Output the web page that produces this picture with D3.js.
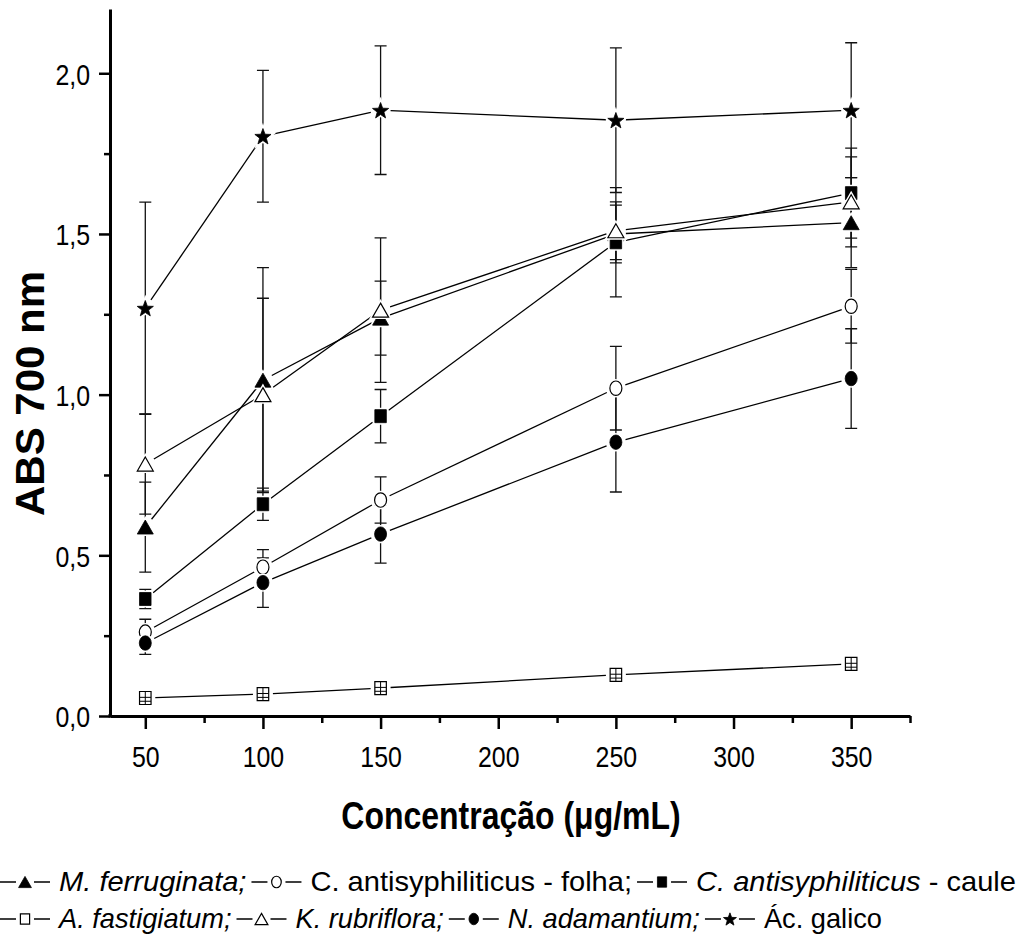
<!DOCTYPE html>
<html><head><meta charset="utf-8">
<script src="https://cdn.jsdelivr.net/npm/d3@7"></script>
<style>body{margin:0;background:#fff}svg{display:block}text{font-family:"Liberation Sans",Arial,sans-serif;fill:#000}</style>
</head><body><svg id="c" width="1024" height="942"></svg>
<script>
// ---------- data ----------
const concentrations = [50, 100, 150, 250, 350];
const xTickValues = [50, 100, 150, 200, 250, 300, 350];
const xMinorTicks = [75, 125, 175, 225, 275, 325, 375];
const yTickValues = [0, 0.5, 1.0, 1.5, 2.0];
const yTickLabels = ["0,0", "0,5", "1,0", "1,5", "2,0"];
const yMinorTicks = [0.25, 0.75, 1.25, 1.75];

const mFerruginata    = [0.588, 1.045, 1.238, 1.500, 1.535];
const mFerruginataErr = [0.140, 0.350, 0.115, 0.090, 0.140];
const cFolha          = [0.261, 0.463, 0.672, 1.020, 1.275];
const cFolhaErr       = [0.040, 0.055, 0.072, 0.130, 0.115];
const cCaule          = [0.364, 0.659, 0.933, 1.474, 1.627];
const cCauleErr       = [0.030, 0.050, 0.083, 0.170, 0.140];
const aFastigiatum    = [0.056, 0.068, 0.087, 0.128, 0.162];
const aFastigiatumErr = [0.008, 0.008, 0.008, 0.010, 0.010];
const kRubriflora     = [0.784, 1.000, 1.263, 1.510, 1.600];
const kRubrifloraErr  = [0.156, 0.300, 0.225, 0.090, 0.140];
const nAdamantium     = [0.227, 0.415, 0.566, 0.852, 1.050];
const nAdamantiumErr  = [0.035, 0.077, 0.090, 0.155, 0.155];
const acGalico        = [1.269, 1.804, 1.885, 1.854, 1.885];
const acGalicoErr     = [0.330, 0.205, 0.200, 0.225, 0.210];

// legend labels: [text, italic]
const legendLabels = [
  [["M. ferruginata;", true]],
  [["C. antisyphiliticus - folha;", false]],
  [["C. antisyphiliticus", true], [" - caule", false]],
  [["A. fastigiatum;", true]],
  [["K. rubriflora;", true]],
  [["N. adamantium;", true]],
  [["Ác. galico", false]]
];

const xTitle = "Concentração (μg/mL)";
const yTitle = "ABS 700 nm";

// ---------- series table ----------
const series = [
  {values: mFerruginata, errors: mFerruginataErr, sym: "triFill", leg: "triFill"},
  {values: cFolha, errors: cFolhaErr, sym: "circOpen", leg: "circOpen"},
  {values: cCaule, errors: cCauleErr, sym: "sqFill", leg: "sqFill"},
  {values: aFastigiatum, errors: aFastigiatumErr, sym: "grid", leg: "sqOpen"},
  {values: kRubriflora, errors: kRubrifloraErr, sym: "triOpen", leg: "triOpen"},
  {values: nAdamantium, errors: nAdamantiumErr, sym: "circFill", leg: "circFill"},
  {values: acGalico, errors: acGalicoErr, sym: "star", leg: "star"}
].map((s, i) => ({...s, label: legendLabels[i]}));

// ---------- layout ----------
const svg = d3.select("#c");
const x = d3.scaleLinear().domain([35, 375]).range([110, 910]);
const y = d3.scaleLinear().domain([0, 2.2]).range([716, 9]);

const legendRows = [{items: [0, 1, 2], baseline: 891, end: 1016},
                    {items: [3, 4, 5, 6], baseline: 928, end: 882}];
const symW = 50, textGap = 9, itemGap = 5;

// ---------- symbols ----------
function shapePath(type, k) {
  if (type.startsWith("tri")) {
    const w = 16 * k, h = 14 * k;
    return `M0,${-h/2}L${w/2},${h/2}L${-w/2},${h/2}Z`;
  }
  if (type.startsWith("sq") || type === "grid") {
    const w = 11.5 * k, h = 13 * k;
    return `M${-w/2},${-h/2}h${w}v${h}h${-w}Z`;
  }
  if (type.startsWith("circ")) {
    const rx = 6 * k, ry = 7.2 * k;
    return `M${-rx},0A${rx},${ry} 0 1,0 ${rx},0A${rx},${ry} 0 1,0 ${-rx},0Z`;
  }
  if (type === "star") {
    const R = 8.5 * k, r = 3.5 * k;
    let p = "";
    for (let i = 0; i < 10; i++) {
      const a = -Math.PI / 2 + i * Math.PI / 5;
      const rr = i % 2 ? r : R;
      p += (i ? "L" : "M") + (rr * Math.cos(a)).toFixed(2) + "," + (rr * Math.sin(a) + 0.8 * k).toFixed(2);
    }
    return p + "Z";
  }
}
function drawSymbol(g, type, cx, cy, k, halo) {
  const s = g.append("g").attr("transform", `translate(${cx},${cy})`);
  const d = shapePath(type, k);
  if (halo) s.append("path").attr("d", d).attr("fill", "#fff").attr("stroke", "#fff").attr("stroke-width", 4);
  const filled = /Fill|star/.test(type);
  s.append("path").attr("d", d)
    .attr("fill", filled ? "#000" : "#fff")
    .attr("stroke", "#000").attr("stroke-width", filled ? 0.8 : 1.2)
    .attr("stroke-linejoin", "miter");
  if (type === "grid") {
    const w = 11.5 * k, h = 13 * k;
    s.append("path")
      .attr("d", `M0,${-h/2}V${h/2}M${-w/2},${-h*0.05}H${w/2}M${-w/2},${h*0.25}H${w/2}`)
      .attr("stroke", "#000").attr("stroke-width", 1).attr("fill", "none");
  }
}

// ---------- axes ----------
const axisG = svg.append("g");
const yAxis = axisG.append("g").attr("transform", `translate(${x.range()[0]},0)`)
  .call(d3.axisLeft(y).tickValues(yTickValues).tickFormat((d, i) => yTickLabels[i]).tickSize(11).tickSizeOuter(0));
axisG.append("g").attr("transform", `translate(${x.range()[0]},0)`)
  .call(d3.axisLeft(y).tickValues(yMinorTicks).tickFormat("").tickSize(6).tickSizeOuter(0))
  .select(".domain").remove();
const xAxis = axisG.append("g").attr("transform", `translate(0,${y.range()[0]})`)
  .call(d3.axisBottom(x).tickValues(xTickValues).tickSize(13).tickSizeOuter(0));
axisG.append("g").attr("transform", `translate(0,${y.range()[0]})`)
  .call(d3.axisBottom(x).tickValues(xMinorTicks).tickFormat("").tickSize(7).tickSizeOuter(0))
  .select(".domain").remove();
axisG.selectAll(".domain").attr("stroke", "#000").attr("stroke-width", 3);
axisG.selectAll(".tick line").attr("stroke", "#000").attr("stroke-width", 2.5);
yAxis.selectAll("text").attr("font-size", 30).attr("font-family", '"Liberation Sans",Arial,sans-serif')
  .attr("x", -20 / 0.83).attr("dy", "0.36em").attr("transform", "scale(0.83,1)");
xAxis.selectAll("text").attr("font-size", 30).attr("font-family", '"Liberation Sans",Arial,sans-serif')
  .attr("y", 51).attr("dy", 0).attr("transform", "scale(0.83,1)");
axisG.append("line").attr("x1", x.range()[0]).attr("x2", x.range()[0])
  .attr("y1", y.range()[0] - 2).attr("y2", y.range()[0] + 1.5).attr("stroke", "#000").attr("stroke-width", 3);

// titles
svg.append("text").attr("transform", `translate(${(x.range()[0] + x.range()[1]) / 2 + 1},829) scale(0.82,1)`)
  .attr("text-anchor", "middle").attr("font-size", 39).attr("font-weight", "bold").text(xTitle);
svg.append("text").attr("transform", `translate(44,${(y(0) + y(2.2)) / 2 + 31}) rotate(-90)`)
  .attr("text-anchor", "middle").attr("font-size", 40).attr("font-weight", "bold")
  .attr("textLength", 245).attr("lengthAdjust", "spacingAndGlyphs").text(yTitle);

// ---------- plot ----------
const plot = svg.append("g");
const gap = 10;
series.forEach(s => {
  const pts = concentrations.map((c, i) => [x(c), y(s.values[i])]);
  for (let i = 0; i < pts.length - 1; i++) {
    const [x1, y1] = pts[i], [x2, y2] = pts[i + 1];
    const L = Math.hypot(x2 - x1, y2 - y1), ux = (x2 - x1) / L, uy = (y2 - y1) / L;
    plot.append("line")
      .attr("x1", x1 + ux * gap).attr("y1", y1 + uy * gap)
      .attr("x2", x2 - ux * gap).attr("y2", y2 - uy * gap)
      .attr("stroke", "#000").attr("stroke-width", 1.3);
  }
  concentrations.forEach((c, i) => {
    const cx = x(c), lo = y(s.values[i] - s.errors[i]), hi = y(s.values[i] + s.errors[i]);
    plot.append("path")
      .attr("d", `M${cx},${lo}V${hi}M${cx - 6},${lo}H${cx + 6}M${cx - 6},${hi}H${cx + 6}`)
      .attr("stroke", "#111").attr("stroke-width", 1.3).attr("fill", "none");
  });
});
series.forEach(s => {
  concentrations.forEach((c, i) => drawSymbol(plot, s.sym, x(c), y(s.values[i]), 1, true));
});

// ---------- legend (flow layout, row fitted to its width) ----------
const legend = svg.append("g");
legendRows.forEach(row => {
  const by = row.baseline, my = by - 9;
  const texts = row.items.map(idx => {
    const t = legend.append("text").attr("y", by).attr("font-size", 28);
    series[idx].label.forEach(([txt, it]) => t.append("tspan").attr("font-style", it ? "italic" : "normal").text(txt));
    return t;
  });
  const natural = texts.map(t => t.node().getComputedTextLength());
  const fixed = row.items.length * (symW + textGap) + (row.items.length - 1) * itemGap;
  const f = (row.end - fixed) / d3.sum(natural);
  let cx = 0;
  row.items.forEach((idx, j) => {
    const s = series[idx];
    const mid = cx + symW / 2;
    legend.append("path")
      .attr("d", `M${cx},${my}H${mid - 9}M${mid + 9},${my}H${cx + symW}`)
      .attr("stroke", "#000").attr("stroke-width", 1.3);
    drawSymbol(legend, s.leg, mid, my, 0.8, false);
    cx += symW + textGap;
    const w = natural[j] * f;
    texts[j].attr("x", cx).attr("textLength", w).attr("lengthAdjust", "spacingAndGlyphs");
    cx += w + itemGap;
  });
});
</script></body></html>
